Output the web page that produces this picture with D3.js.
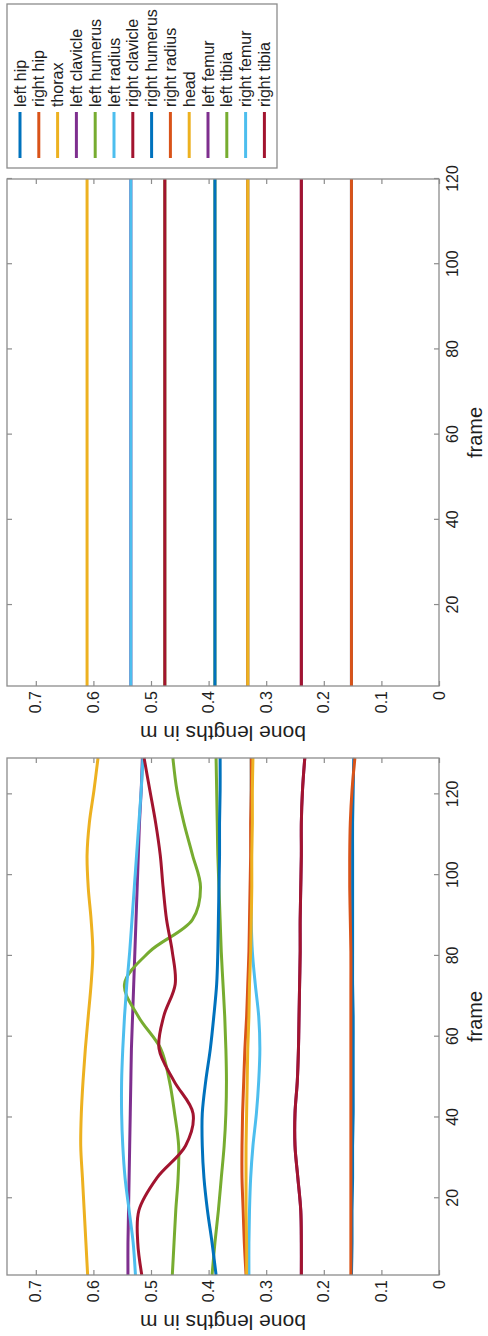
<!DOCTYPE html>
<html>
<head>
<meta charset="utf-8">
<script src="https://cdn.jsdelivr.net/npm/d3@7"></script>
<style>
  body { margin: 0; background: #fff; }
  svg { display: block; font-family: "Liberation Sans", Arial, Helvetica, sans-serif; }
</style>
</head>
<body>
<div id="chart"></div>
<script>
// bone names and matlab default line colours, in plotting order
const bones = ["left hip", "right hip", "thorax", "left clavicle", "left humerus", "left radius",
  "right clavicle", "right humerus", "right radius", "head", "left femur", "left tibia",
  "right femur", "right tibia"];
const colors = ["#0072BD", "#D95319", "#EDB120", "#7E2F8E", "#77AC30", "#4DBEEE", "#A2142F",
  "#0072BD", "#D95319", "#EDB120", "#7E2F8E", "#77AC30", "#4DBEEE", "#A2142F"];

// left panel: estimated lengths, read at these frames
const frames = [1, 9, 17, 25, 33, 41, 49, 57, 65, 73, 81, 89, 97, 105, 113, 121, 129];
const leftHip      = [0.152, 0.151, 0.151, 0.150, 0.150, 0.149, 0.149, 0.149, 0.149, 0.150, 0.150, 0.150, 0.150, 0.150, 0.150, 0.149, 0.148];
const rightHip     = [0.153, 0.153, 0.153, 0.153, 0.153, 0.153, 0.153, 0.153, 0.153, 0.153, 0.153, 0.154, 0.155, 0.155, 0.154, 0.151, 0.146];
const thorax       = [0.610, 0.613, 0.616, 0.619, 0.622, 0.621, 0.618, 0.614, 0.609, 0.604, 0.601, 0.604, 0.609, 0.611, 0.607, 0.599, 0.592];
const leftClavicle = [0.239, 0.239, 0.240, 0.245, 0.250, 0.250, 0.246, 0.244, 0.243, 0.242, 0.241, 0.241, 0.240, 0.239, 0.239, 0.237, 0.233];
const leftHumerus  = [0.394, 0.389, 0.383, 0.378, 0.373, 0.370, 0.369, 0.370, 0.372, 0.375, 0.378, 0.380, 0.382, 0.384, 0.385, 0.386, 0.387];
const leftRadius   = [0.330, 0.330, 0.329, 0.327, 0.323, 0.317, 0.313, 0.311, 0.313, 0.319, 0.324, 0.326, 0.326, 0.326, 0.326, 0.326, 0.326];
const rightClavicle= [0.239, 0.239, 0.240, 0.245, 0.250, 0.250, 0.246, 0.244, 0.243, 0.242, 0.241, 0.241, 0.240, 0.239, 0.239, 0.237, 0.233];
const rightHumerus = [0.387, 0.394, 0.402, 0.408, 0.411, 0.411, 0.405, 0.397, 0.391, 0.386, 0.384, 0.383, 0.382, 0.381, 0.381, 0.380, 0.380];
const rightRadius  = [0.335, 0.338, 0.340, 0.342, 0.342, 0.341, 0.339, 0.337, 0.334, 0.332, 0.330, 0.329, 0.328, 0.327, 0.327, 0.326, 0.326];
const head         = [0.334, 0.334, 0.335, 0.335, 0.335, 0.334, 0.333, 0.332, 0.330, 0.329, 0.327, 0.326, 0.325, 0.325, 0.324, 0.324, 0.323];
const leftFemur    = [0.540, 0.540, 0.539, 0.538, 0.537, 0.536, 0.535, 0.534, 0.532, 0.530, 0.528, 0.526, 0.524, 0.522, 0.520, 0.517, 0.515];
const leftTibia    = [0.463, 0.460, 0.457, 0.453, 0.452, 0.459, 0.468, 0.483, 0.522, 0.546, 0.503, 0.428, 0.414, 0.428, 0.443, 0.455, 0.462];
const rightFemur   = [0.527, 0.531, 0.538, 0.545, 0.549, 0.551, 0.551, 0.549, 0.546, 0.542, 0.537, 0.533, 0.529, 0.525, 0.521, 0.517, 0.514];
const rightTibia   = [0.516, 0.523, 0.521, 0.490, 0.440, 0.427, 0.460, 0.486, 0.478, 0.458, 0.463, 0.473, 0.479, 0.484, 0.492, 0.502, 0.512];
const estimated = [leftHip, rightHip, thorax, leftClavicle, leftHumerus, leftRadius, rightClavicle,
  rightHumerus, rightRadius, head, leftFemur, leftTibia, rightFemur, rightTibia];

// right panel: constant lengths
const trueFrames = [1, 120];
const trueLengths = [0.152, 0.152, 0.611, 0.239, 0.389, 0.332, 0.239, 0.389, 0.332, 0.332, 0.535, 0.476, 0.535, 0.476];

const valueTicks = [0, 0.1, 0.2, 0.3, 0.4, 0.5, 0.6, 0.7];
const frameTicks = [20, 40, 60, 80, 100, 120];

// figure is drawn landscape (1336 x 488) then turned a quarter turn
const W = 1336, H = 488;
const axisColor = "#8c8c8c", textColor = "#1e1e1e";

const svg = d3.select("#chart").append("svg")
  .attr("width", H)
  .attr("height", W);
const fig = svg.append("g")
  .attr("transform", `translate(0,${W}) rotate(-90)`);

const y = d3.scaleLinear().domain([0, 0.75]).range([439, 7]);

function styleAxis(g) {
  g.attr("font-size", 16).attr("font-family", null);
  g.select(".domain").remove();
  g.selectAll("line").attr("stroke", axisColor).attr("stroke-width", 1.2);
  g.selectAll("text").attr("fill", textColor);
}

function drawPanel(x0, x1, domain, lines, lineFrames) {
  const x = d3.scaleLinear().domain(domain).range([x0, x1]);
  const g = fig.append("g");

  const line = d3.line()
    .x((d, i) => x(lineFrames[i]))
    .y(d => y(d))
    .curve(d3.curveCatmullRom);

  g.append("g")
    .selectAll("path")
    .data(lines)
    .join("path")
      .attr("d", line)
      .attr("fill", "none")
      .attr("stroke", (d, i) => colors[i])
      .attr("stroke-width", 3);

  // frame axis (bottom) plus mirrored ticks on top
  g.append("g")
    .attr("transform", `translate(0,${y(0)})`)
    .call(d3.axisBottom(x).tickValues(frameTicks).tickSizeInner(-5).tickSizeOuter(0).tickPadding(8))
    .call(styleAxis);
  g.append("g")
    .attr("transform", `translate(0,${y(0.75)})`)
    .call(d3.axisTop(x).tickValues(frameTicks).tickSizeInner(-5).tickSizeOuter(0).tickFormat(""))
    .call(styleAxis);

  // value axis (left) plus mirrored ticks on right
  g.append("g")
    .attr("transform", `translate(${x0},0)`)
    .call(d3.axisLeft(y).tickValues(valueTicks).tickSizeInner(-5).tickSizeOuter(0).tickPadding(5)
      .tickFormat(d => d === 0 ? "0" : d3.format(".1f")(d)))
    .call(styleAxis);
  g.append("g")
    .attr("transform", `translate(${x1},0)`)
    .call(d3.axisRight(y).tickValues(valueTicks).tickSizeInner(-5).tickSizeOuter(0).tickFormat(""))
    .call(styleAxis);

  // box
  g.append("rect")
    .attr("x", x0).attr("y", y(0.75))
    .attr("width", x1 - x0).attr("height", y(0) - y(0.75))
    .attr("fill", "none")
    .attr("stroke", axisColor)
    .attr("stroke-width", 1.3);

  g.append("text")
    .attr("x", (x0 + x1) / 2)
    .attr("y", 482)
    .attr("text-anchor", "middle")
    .attr("font-size", 20)
    .attr("fill", textColor)
    .text("frame");

  g.append("text")
    .attr("transform", `translate(${x0 - 40},${(y(0) + y(0.75)) / 2}) rotate(-90)`)
    .attr("text-anchor", "middle")
    .attr("font-size", 21)
    .attr("fill", textColor)
    .text("bone lengths in m");
}

drawPanel(61, 578, [1, 129], estimated, frames);
drawPanel(650, 1157, [1, 120], trueLengths.map(v => [v, v]), trueFrames);

// legend
const legend = fig.append("g");
legend.append("rect")
  .attr("x", 1168).attr("y", 7)
  .attr("width", 164).attr("height", 270)
  .attr("fill", "#fff")
  .attr("stroke", axisColor)
  .attr("stroke-width", 1.3);

const item = legend.selectAll("g.item")
  .data(bones)
  .join("g")
    .attr("class", "item")
    .attr("transform", (d, i) => `translate(0,${20 + i * 18.8})`);
item.append("line")
  .attr("x1", 1178).attr("x2", 1224)
  .attr("stroke", (d, i) => colors[i])
  .attr("stroke-width", 3);
item.append("text")
  .attr("x", 1229)
  .attr("dy", "0.35em")
  .attr("font-size", 16)
  .attr("fill", textColor)
  .text(d => d);
</script>
</body>
</html>
